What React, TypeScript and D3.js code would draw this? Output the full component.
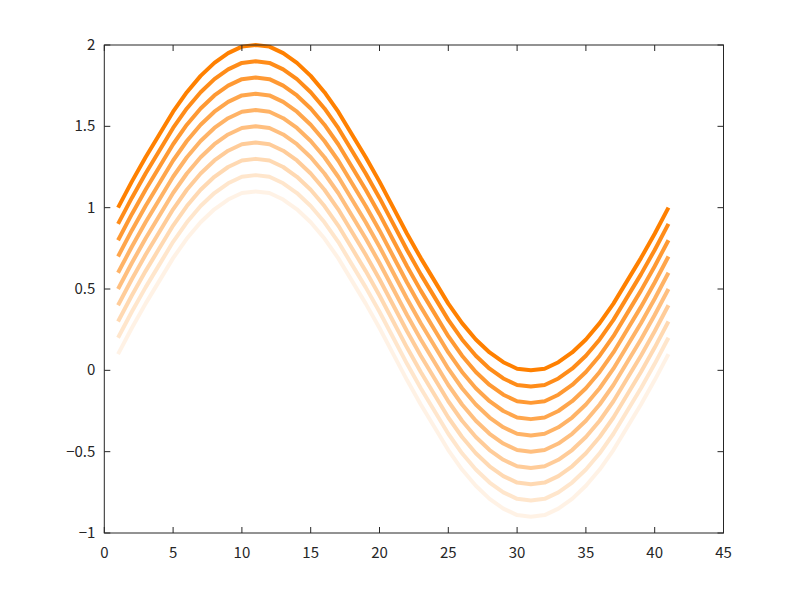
import React, { useEffect, useRef } from "react";
import * as d3 from "d3";

// x positions shared by every line
const xValues: number[] = d3.range(1, 42);

// top curve (x = 1..41)
const baseValues: number[] = [
  1.0, 1.16, 1.31, 1.45, 1.59, 1.71, 1.81, 1.89, 1.95, 1.99, 2.0, 1.99, 1.95,
  1.89, 1.81, 1.71, 1.59, 1.45, 1.31, 1.16, 1.0, 0.84, 0.69, 0.55, 0.41, 0.29,
  0.19, 0.11, 0.05, 0.01, 0.0, 0.01, 0.05, 0.11, 0.19, 0.29, 0.41, 0.55, 0.69,
  0.84, 1.0,
];

// each line sits a bit below the previous one
const offsets: number[] = [0, -0.1, -0.2, -0.3, -0.4, -0.5, -0.6, -0.7, -0.8, -0.9];
const opacities: number[] = [1, 0.9, 0.8, 0.7, 0.6, 0.5, 0.4, 0.3, 0.2, 0.1];

const xTicks: number[] = [0, 5, 10, 15, 20, 25, 30, 35, 40, 45];
const yTicks: number[] = [-1, -0.5, 0, 0.5, 1, 1.5, 2];

const App: React.FC = () => {
  const ref = useRef<SVGSVGElement | null>(null);

  useEffect(() => {
    const svg = d3.select(ref.current);
    svg.selectAll("*").remove();

    const width = 800,
      height = 600,
      margin = { top: 45, right: 76.5, bottom: 67, left: 104.3 };

    const x = d3
      .scaleLinear()
      .domain([0, 45])
      .range([margin.left, width - margin.right]);
    const y = d3
      .scaleLinear()
      .domain([-1, 2])
      .range([height - margin.bottom, margin.top]);

    svg.append("rect").attr("width", width).attr("height", height).attr("fill", "#fff");

    const font = "'Noto Sans CJK JP', 'DejaVu Sans', sans-serif";
    const fmt = (d: number) => String(d).replace("-", "\u2212");

    // lines, lightest first so the darkest sits on top
    const line = d3
      .line<number>()
      .x((_, i) => x(xValues[i]))
      .y((d) => y(d));

    const series = offsets.map((o, k) => ({
      values: baseValues.map((v) => v + o),
      opacity: opacities[k],
    }));

    svg
      .append("g")
      .selectAll("path")
      .data(series.slice().reverse())
      .enter()
      .append("path")
      .attr("d", (d) => line(d.values))
      .attr("fill", "none")
      .attr("stroke", "#ff8000")
      .attr("stroke-opacity", (d) => d.opacity)
      .attr("stroke-width", 4)
      .attr("stroke-linejoin", "round");

    // box
    const x0 = x(0), x1 = x(45), y0 = y(-1), y1 = y(2);
    svg
      .append("rect")
      .attr("x", x0)
      .attr("y", y1)
      .attr("width", x1 - x0)
      .attr("height", y0 - y1)
      .attr("fill", "none")
      .attr("stroke", "#262626")
      .attr("stroke-width", 1);

    const tickLen = 6;
    const ax = svg.append("g").attr("stroke", "#262626").attr("stroke-width", 1);
    xTicks.forEach((t) => {
      ax.append("line").attr("x1", x(t)).attr("x2", x(t)).attr("y1", y0).attr("y2", y0 - tickLen);
      ax.append("line").attr("x1", x(t)).attr("x2", x(t)).attr("y1", y1).attr("y2", y1 + tickLen);
    });
    yTicks.forEach((t) => {
      ax.append("line").attr("x1", x0).attr("x2", x0 + tickLen).attr("y1", y(t)).attr("y2", y(t));
      ax.append("line").attr("x1", x1).attr("x2", x1 - tickLen).attr("y1", y(t)).attr("y2", y(t));
    });

    const labels = svg
      .append("g")
      .attr("font-family", font)
      .attr("font-size", 15)
      .attr("fill", "#262626");

    labels
      .selectAll("text.xt")
      .data(xTicks)
      .enter()
      .append("text")
      .attr("x", (d) => x(d))
      .attr("y", y0 + 25)
      .attr("text-anchor", "middle")
      .text(fmt);

    labels
      .selectAll("text.yt")
      .data(yTicks)
      .enter()
      .append("text")
      .attr("x", x0 - 9)
      .attr("y", (d) => y(d) + 5)
      .attr("text-anchor", "end")
      .text(fmt);
  }, []);

  return (
    <svg
      ref={ref}
      width={800}
      height={600}
      style={{ position: "absolute", left: 0, top: 0 }}
    ></svg>
  );
};

export default App;
